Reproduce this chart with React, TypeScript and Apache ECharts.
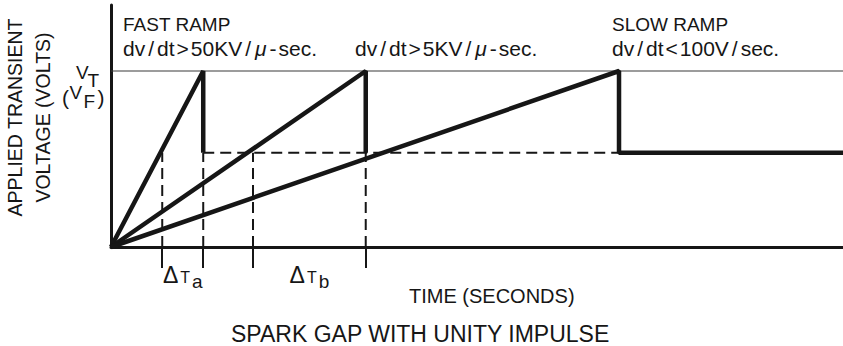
import { useEffect, useRef } from 'react';
import * as echarts from 'echarts';

// Voltage levels, normalised to the spark-over voltage V_T
const SPARKOVER_V = 1.0;
const ARC_V = 0.535;
const V_MAX = 1.375;

// Time (arbitrary units) at which each ramp reaches V_T: fast, medium, slow
const PEAK_TIMES = [12.6, 34.8, 69.4];
const T_END = 100;

// Breakdown-delay markers; consecutive pairs bracket ΔT_a and ΔT_b
const DELAY_MARKS = [7.0, 12.6, 19.4, 34.8];
const DELAY_SUBSCRIPTS = ['a', 'b'];

const INK = '#161616';
const FONT = '"Liberation Sans", Arial, Helvetica, sans-serif';

function tok(size: number, extra: Record<string, unknown> = {}) {
  return { fontSize: size, fontFamily: FONT, fill: INK, ...extra };
}

const rateRich = {
  sl: tok(21, { padding: [0, 3, 0, 3] }),
  op: tok(21, { padding: [0, 2, 0, 2] }),
  mu: tok(21, { fontStyle: 'italic', padding: [0, 1, 0, 1] }),
};

// a single glyph of the V_T (V_F) axis marker
function glyph(text: string, x: number, y: number, size: number) {
  return {
    type: 'text',
    x,
    y,
    style: { text, fontSize: size, fontFamily: FONT, fill: INK, align: 'left', verticalAlign: 'middle' },
  };
}

export default function App() {
  const ref = useRef<HTMLDivElement>(null);

  useEffect(() => {
    if (!ref.current) return;
    const chart = echarts.init(ref.current, undefined, { renderer: 'svg' });

    const lastRamp = PEAK_TIMES.length - 1;
    const rampSeries = PEAK_TIMES.map((tp, i) => ({
      type: 'line',
      name: `ramp-${i}`,
      data: [
        [0, 0],
        [tp, SPARKOVER_V],
        [tp, ARC_V],
        ...(i === lastRamp ? [[T_END, ARC_V]] : []),
      ],
      showSymbol: false,
      symbol: 'none',
      clip: false,
      z: 5,
      lineStyle: { color: INK, width: 4.5, join: 'bevel' },
    }));

    const dashStyle = { color: INK, width: 2, type: [11, 6] };

    const dashedVerticals = DELAY_MARKS.map((t, i) => ({
      type: 'line',
      name: `delay-${i}`,
      data: [
        [t, 0],
        [t, ARC_V],
      ],
      showSymbol: false,
      symbol: 'none',
      z: 3,
      lineStyle: dashStyle,
    }));

    const labelMids: number[] = [];
    for (let i = 0; i + 1 < DELAY_MARKS.length; i += 2) {
      labelMids.push((DELAY_MARKS[i] + DELAY_MARKS[i + 1]) / 2);
    }

    chart.setOption({
      animation: false,
      backgroundColor: '#ffffff',
      grid: { left: 111, right: 0, top: 5, bottom: 99, containLabel: false },
      xAxis: {
        type: 'value',
        min: 0,
        max: T_END,
        splitLine: { show: false },
        axisLine: { show: true, onZero: false, lineStyle: { color: INK, width: 3 } },
        axisTick: {
          show: true,
          customValues: DELAY_MARKS,
          length: 21,
          inside: false,
          lineStyle: { color: INK, width: 2 },
        },
        axisLabel: {
          show: true,
          customValues: labelMids,
          margin: 16,
          formatter: (v: number) => {
            let best = 0;
            labelMids.forEach((m, i) => {
              if (Math.abs(m - v) < Math.abs(labelMids[best] - v)) best = i;
            });
            return `{d|Δ}{t|T}{s|${DELAY_SUBSCRIPTS[best]}}`;
          },
          rich: {
            d: { fontSize: 23, fontFamily: FONT, color: INK, lineHeight: 23, verticalAlign: 'top', padding: [0, 2, 0, 0] },
            t: { fontSize: 16, fontFamily: FONT, color: INK, lineHeight: 16, verticalAlign: 'top', padding: [6, 2, 0, 0] },
            s: { fontSize: 19, fontFamily: FONT, color: INK, lineHeight: 19, verticalAlign: 'top', padding: [8.9, 0, 0, 0] },
          },
        },
      },
      yAxis: {
        type: 'value',
        min: 0,
        max: V_MAX,
        splitLine: { show: false },
        axisTick: { show: false },
        axisLabel: { show: false },
        axisLine: { show: true, onZero: false, lineStyle: { color: INK, width: 3 } },
      },
      series: [
        {
          type: 'line',
          name: 'sparkover-level',
          data: [
            [0, SPARKOVER_V],
            [T_END, SPARKOVER_V],
          ],
          showSymbol: false,
          symbol: 'none',
          z: 2,
          lineStyle: { color: '#3a3a3a', width: 1.1 },
        },
        {
          type: 'line',
          name: 'arc-level',
          data: [
            [PEAK_TIMES[0], ARC_V],
            [PEAK_TIMES[lastRamp], ARC_V],
          ],
          showSymbol: false,
          symbol: 'none',
          z: 3,
          lineStyle: dashStyle,
        },
        ...dashedVerticals,
        ...rampSeries,
      ],
      graphic: [
        {
          type: 'text',
          x: 29,
          y: 117.5,
          rotation: Math.PI / 2,
          style: {
            text: 'APPLIED TRANSIENT\nVOLTAGE (VOLTS)',
            fontSize: 19.5,
            fontFamily: FONT,
            fill: INK,
            lineHeight: 28,
            align: 'center',
            verticalAlign: 'middle',
          },
        },
        // V_T
        glyph('V', 76, 72, 19),
        glyph('T', 87.5, 80.5, 19),
        // (V_F)
        glyph('(', 62, 97.5, 21),
        glyph('V', 69.5, 92.5, 19),
        glyph('F', 83.5, 101.5, 19),
        glyph(')', 97.5, 97.5, 21),
        {
          type: 'text',
          x: 123,
          y: 24.5,
          style: { text: 'FAST RAMP', fontSize: 19, fontFamily: FONT, fill: INK, align: 'left', verticalAlign: 'middle' },
        },
        {
          type: 'text',
          x: 123,
          y: 48.5,
          style: {
            text: 'dv{sl|/}dt{op|>}50KV{sl|/}{mu|μ}{op|-}sec.',
            rich: rateRich,
            fontSize: 21,
            fontFamily: FONT,
            fill: INK,
            align: 'left',
            verticalAlign: 'middle',
          },
        },
        {
          type: 'text',
          x: 355,
          y: 48.5,
          style: {
            text: 'dv{sl|/}dt{op|>}5KV{sl|/}{mu|μ}{op|-}sec.',
            rich: rateRich,
            fontSize: 21,
            fontFamily: FONT,
            fill: INK,
            align: 'left',
            verticalAlign: 'middle',
          },
        },
        {
          type: 'text',
          x: 612,
          y: 24.5,
          style: { text: 'SLOW RAMP', fontSize: 19, fontFamily: FONT, fill: INK, align: 'left', verticalAlign: 'middle' },
        },
        {
          type: 'text',
          x: 612,
          y: 48.5,
          style: {
            text: 'dv{sl|/}dt{op|<}100V{sl|/}sec.',
            rich: rateRich,
            fontSize: 21,
            fontFamily: FONT,
            fill: INK,
            align: 'left',
            verticalAlign: 'middle',
          },
        },
        {
          type: 'text',
          x: 409,
          y: 295.5,
          style: { text: 'TIME (SECONDS)', fontSize: 20, fontFamily: FONT, fill: INK, align: 'left', verticalAlign: 'middle' },
        },
        {
          type: 'text',
          x: 231,
          y: 333.5,
          style: {
            text: 'SPARK GAP WITH UNITY IMPULSE',
            fontSize: 23,
            fontFamily: FONT,
            fill: INK,
            align: 'left',
            verticalAlign: 'middle',
          },
        },
      ],
    });

    return () => chart.dispose();
  }, []);

  return (
    <div
      ref={ref}
      style={{ position: 'absolute', left: 0, top: 0, width: 843, height: 346, background: '#fff' }}
    />
  );
}
